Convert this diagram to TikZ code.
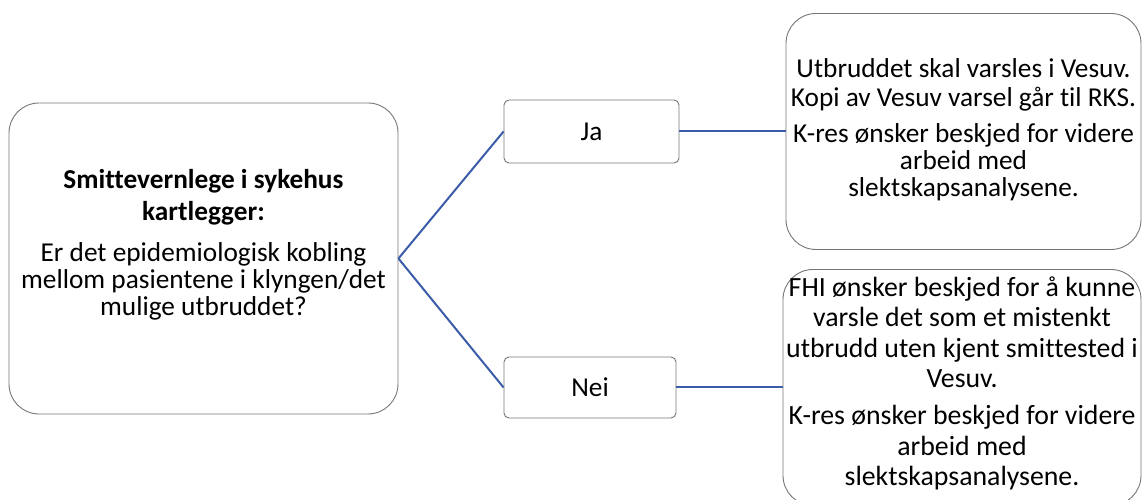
\documentclass[tikz,border=0pt]{standalone}
\usepackage{fontspec}
\setmainfont{Carlito}[Ligatures=NoCommon]
\definecolor{linkblue}{RGB}{59,92,168}
\definecolor{boxgray}{RGB}{118,118,118}
\newcommand\tightlines{\lineskiplimit=-20pt\relax}
\tikzset{
  bigbox/.style={draw=boxgray, line width=0.9pt, rounded corners=30pt},
  boxtext/.style={align=center, inner sep=0pt,
    font={\fontsize{27.3}{27}\selectfont\tightlines}},
  answerbox/.style={draw=boxgray, line width=0.9pt, rounded corners=5pt, align=center,
    font={\fontsize{27.3}{27}\selectfont}},
  link/.style={draw=linkblue, line width=2pt}
}
\begin{document}
\begin{tikzpicture}[x=1pt,y=1pt]
\useasboundingbox (0,0) rectangle (1143,500);
\clip (0,0) rectangle (1143,500);
% start box
\node[bigbox, minimum width=389pt, minimum height=311pt] (main) at (203.5,241.5){};
\node[boxtext] (maintext) at ([yshift=14pt]main.center)
  {\textbf{Smittevernlege i sykehus}\\[5pt] \textbf{kartlegger:}\\[14pt]
   Er det epidemiologisk kobling\\ mellom pasientene i klyngen/det\\ mulige utbruddet?};
% answers
\node[answerbox, minimum width=175pt, minimum height=63pt] (ja) at (591.5,368.5){Ja};
\node[answerbox, minimum width=172pt, minimum height=61pt] (nei) at (590,112.5){Nei};
% outcomes
\node[bigbox, minimum width=355pt, minimum height=236pt] (jares) at (963.5,368.5){};
\node[boxtext] (jarestext) at ([yshift=2pt]jares.center)
  {Utbruddet skal varsles i Vesuv.\\[2pt] Kopi av Vesuv varsel går til RKS.\\[9pt]
   K-res ønsker beskjed for videre\\ arbeid med\\ slektskapsanalysene.};
\node[bigbox, minimum width=358pt, minimum height=236pt] (neires) at (962,112.5){};
\node[boxtext, font={\fontsize{27.8}{30.5}\selectfont\tightlines}] (neirestext)
  at ([yshift=4pt]neires.center)
  {FHI ønsker beskjed for å kunne\\ varsle det som et mistenkt\\ utbrudd uten kjent smittested i\\ Vesuv.\\[6.5pt]
   K-res ønsker beskjed for videre\\ arbeid med\\ slektskapsanalysene.};
\draw[link] (main.east) -- (ja.west);
\draw[link] (main.east) -- (nei.west);
\draw[link] (ja.east) -- (jares.west);
\draw[link] (nei.east) -- (neires.west);
\end{tikzpicture}
\end{document}
